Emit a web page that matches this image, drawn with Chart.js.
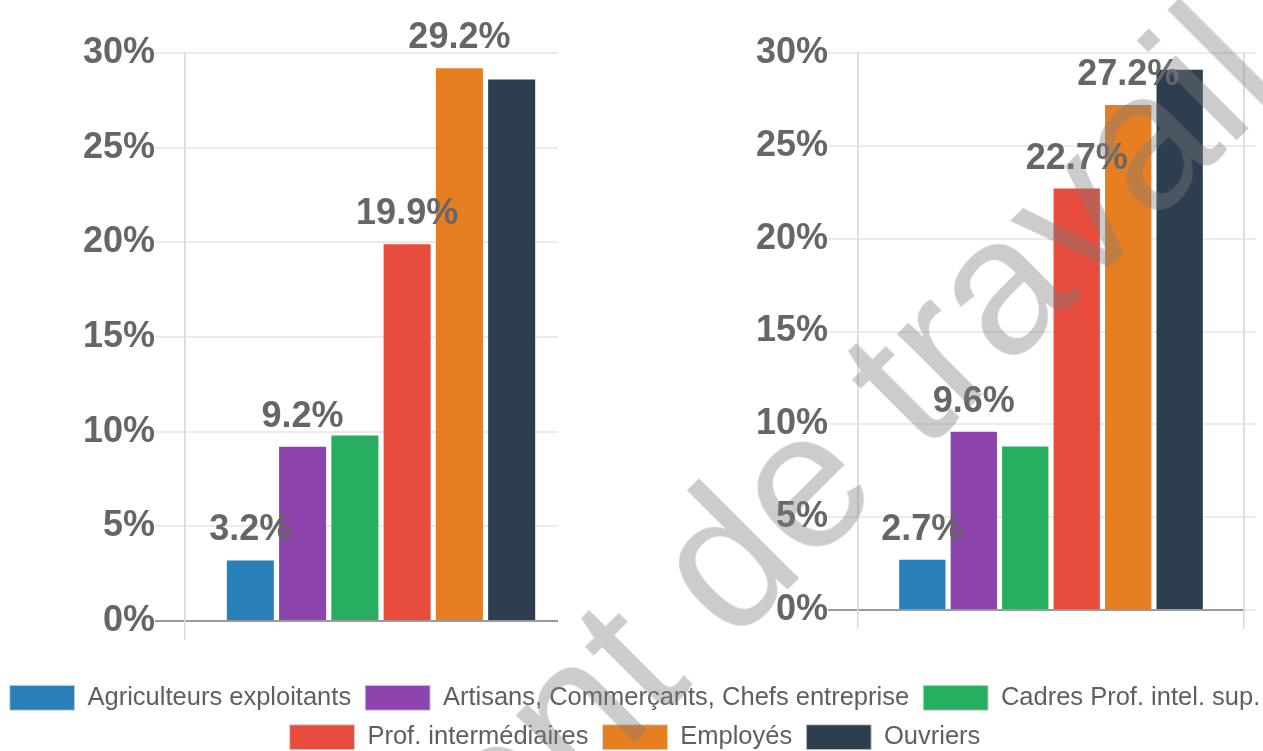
<!DOCTYPE html>
<html>
<head>
<meta charset="utf-8">
<script src="https://cdn.jsdelivr.net/npm/chart.js@4.4.1/dist/chart.umd.min.js"></script>
<style>
  html, body { margin: 0; padding: 0; width: 1263px; height: 751px; overflow: hidden; background: #fff; position: relative; }
  #leftClip { position: absolute; left: 0; top: 0; width: 558px; height: 660px; overflow: hidden; }
  #leftBox { position: absolute; left: 0; top: 0; width: 600px; height: 660px; }
  #rightBox { position: absolute; left: 673px; top: 0; width: 590px; height: 660px; }
  #legendBox { position: absolute; left: -15px; top: 671px; width: 1300px; height: 320px; }
  #wm { position: absolute; left: 631px; top: 651px; transform: translate(-50%, -50%) rotate(-45deg);
        font: 194px "Liberation Sans", Arial, sans-serif; line-height: 1; color: rgba(124,124,124,0.39);
        white-space: nowrap; pointer-events: none; }
</style>
</head>
<body>
<div id="leftClip"><div id="leftBox"><canvas id="leftChart"></canvas></div></div>
<div id="rightBox"><canvas id="rightChart"></canvas></div>
<div id="legendBox"><canvas id="legendChart"></canvas></div>
<div id="wm">Document de travail</div>
<script>
// ---- data ----
const categories = ['Agriculteurs exploitants', 'Artisans, Commerçants, Chefs entreprise', 'Cadres Prof. intel. sup.', 'Prof. intermédiaires', 'Employés', 'Ouvriers'];
const colors = ['#2980b9', '#8e44ad', '#27ae60', '#e74c3c', '#e67e22', '#2c3e50'];
const leftValues = [3.2, 9.2, 9.8, 19.9, 29.2, 28.6];
const rightValues = [2.7, 9.6, 8.8, 22.7, 27.2, 29.1];
const labelShown = [true, true, false, true, true, false];
const yTicks = [0, 5, 10, 15, 20, 25, 30];

const FONT = '"Liberation Sans", Arial, Helvetica, sans-serif';

const barLabels = {
  id: 'barLabels',
  afterDatasetsDraw(chart, args, opts) {
    const ctx = chart.ctx;
    ctx.save();
    ctx.font = 'bold 36px ' + FONT;
    ctx.fillStyle = '#666';
    ctx.textAlign = 'center';
    ctx.textBaseline = 'alphabetic';
    chart.data.datasets.forEach((ds, i) => {
      if (!opts.show || !opts.show[i]) return;
      const meta = chart.getDatasetMeta(i);
      meta.data.forEach((bar, j) => {
        ctx.fillText(ds.data[j].toFixed(1) + '%', bar.x, bar.y - 20);
      });
    });
    ctx.restore();
  }
};

function makeChart(id, values, axisWidth, padBottom, padRight) {
  return new Chart(document.getElementById(id), {
    type: 'bar',
    data: {
      labels: [''],
      datasets: categories.map((c, i) => ({
        label: c,
        data: [values[i]],
        backgroundColor: colors[i],
        borderWidth: 0,
        barPercentage: 0.9,
        categoryPercentage: 0.8
      }))
    },
    options: {
      responsive: true,
      maintainAspectRatio: false,
      animation: false,
      layout: { padding: { top: 53, bottom: padBottom, left: 0, right: padRight } },
      plugins: {
        legend: { display: false },
        tooltip: { enabled: false },
        barLabels: { show: labelShown }
      },
      scales: {
        x: {
          grid: { color: '#dadada', lineWidth: 1.5, tickLength: 19, offset: true },
          border: { color: '#9a9a9a', width: 1.5 },
          ticks: { display: false }
        },
        y: {
          min: 0, max: 30,
          afterBuildTicks: (s) => { s.ticks = yTicks.map(v => ({ value: v })); },
          afterFit: (s) => { s.width = axisWidth; },
          ticks: {
            callback: (v) => v + '%',
            color: '#666',
            padding: 0,
            font: { family: FONT, size: 36, weight: 'bold' }
          },
          grid: {
            color: (c) => (c.tick && c.tick.value === 0) ? '#9a9a9a' : '#ebebeb',
            lineWidth: 2,
            tickLength: 30
          },
          border: { color: '#dadada', width: 1.5 }
        },
        y2: {
          position: 'right',
          min: 0, max: 30,
          afterBuildTicks: (s) => { s.ticks = yTicks.map(v => ({ value: v })); },
          ticks: { display: false },
          grid: { drawOnChartArea: false, color: '#ebebeb', lineWidth: 2, tickLength: 12 },
          border: { color: '#dadada', width: 1.5 }
        }
      }
    },
    plugins: [barLabels]
  });
}

makeChart('leftChart', leftValues, 185, 20, 11);
makeChart('rightChart', rightValues, 185, 31, 7);

new Chart(document.getElementById('legendChart'), {
  type: 'bar',
  data: {
    labels: [''],
    datasets: categories.map((c, i) => ({
      label: c,
      data: [],
      backgroundColor: colors[i],
      borderColor: '#d8d8d8',
      borderWidth: 1
    }))
  },
  options: {
    responsive: true,
    maintainAspectRatio: false,
    animation: false,
    layout: { padding: 0 },
    plugins: {
      legend: {
        display: true,
        position: 'top',
        labels: {
          boxWidth: 65, boxHeight: 25, padding: 14, color: '#5f5f5f',
          font: { family: FONT, size: 25.5 }
        }
      },
      tooltip: { enabled: false }
    },
    scales: { x: { display: false }, y: { display: false } }
  }
});
</script>
</body>
</html>
